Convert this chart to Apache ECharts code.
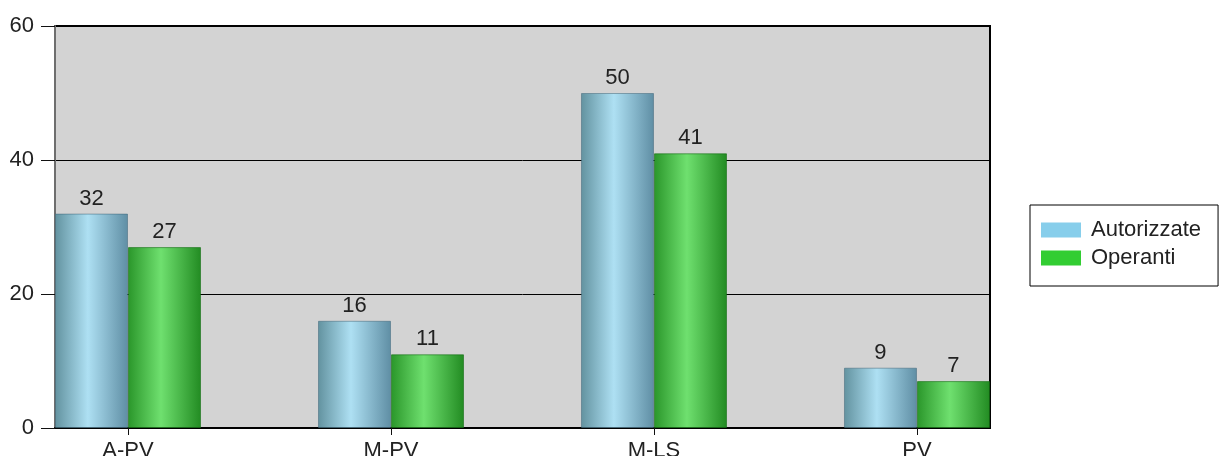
<!DOCTYPE html>
<html>
<head>
<meta charset="utf-8">
<script src="https://cdn.jsdelivr.net/npm/echarts@6/dist/echarts.min.js"></script>
<style>
  html, body { margin: 0; padding: 0; background: #fff; }
  #chart { width: 1221px; height: 456px; }
</style>
</head>
<body>
<div id="chart"></div>
<script>
// categorie e valori
var categories = ['A-PV', 'M-PV', 'M-LS', 'PV'];
var autorizzate = [32, 16, 50, 9];
var operanti = [27, 11, 41, 7];
var yMax = 60;
var yStep = 20;

var font = 'Liberation Sans';

function grad(c1, c2, c3) {
	return new echarts.graphic.LinearGradient(0, 0, 1, 0, [
		{ offset: 0, color: c1 },
		{ offset: 0.45, color: c2 },
		{ offset: 1, color: c3 }
	]);
}

function pts(arr) {
	return arr.map(function (v, i) { return [i, v]; });
}

var catIdx = categories.map(function (c, i) { return i; });

var myChart = echarts.init(document.getElementById('chart'));

myChart.setOption({
	animation: false,
	textStyle: { fontFamily: font },
	grid: {
		left: 55, right: 231, top: 26, bottom: 28,
		outerBoundsMode: 'none',
		show: true,
		backgroundColor: '#d3d3d3',
		borderColor: '#000',
		borderWidth: 2
	},
	legend: {
		orient: 'vertical',
		left: 1030, top: 205,
		padding: [14, 17, 17, 11],
		backgroundColor: '#fff',
		borderColor: '#000',
		borderWidth: 1,
		borderRadius: 0,
		itemWidth: 40, itemHeight: 15, itemGap: 6,
		textStyle: { fontSize: 22, color: '#222', lineHeight: 20, padding: [0, 0, 0, 5], fontFamily: font },
		data: [
			{ name: 'Autorizzate', icon: 'rect', itemStyle: { color: '#87ceeb', borderWidth: 0 } },
			{ name: 'Operanti', icon: 'rect', itemStyle: { color: '#32cd32', borderWidth: 0 } }
		]
	},
	xAxis: {
		type: 'value',
		min: -0.2776, max: catIdx.length - 1 + 0.2776,
		splitLine: { show: false },
		axisLine: { show: true, onZero: false, lineStyle: { color: '#000', width: 2 } },
		axisTick: { show: true, length: 7, customValues: catIdx, lineStyle: { color: '#111', width: 1 } },
		axisLabel: {
			customValues: catIdx,
			margin: 12,
			fontSize: 22, color: '#222',
			formatter: function (v) { return categories[Math.round(v)]; }
		}
	},
	yAxis: {
		type: 'value',
		min: 0, max: yMax, interval: yStep,
		axisLine: { show: true, onZero: false, lineStyle: { color: '#6e6e6e', width: 2 } },
		axisTick: { show: true, length: 14, lineStyle: { color: '#111', width: 1 } },
		axisLabel: { show: true, margin: 21, fontSize: 22, color: '#222' },
		splitLine: { show: true, lineStyle: { color: '#000', width: 1 } }
	},
	series: [
		{
			name: 'Autorizzate',
			type: 'bar',
			barWidth: 73,
			barGap: '0%',
			data: pts(autorizzate),
			itemStyle: { color: grad('#62929f', '#aee0f3', '#5f8ea4'), borderColor: 'rgba(60,100,120,0.5)', borderWidth: 1 },
			label: { show: true, position: 'top', distance: 4, fontSize: 22, color: '#222' }
		},
		{
			name: 'Operanti',
			type: 'bar',
			barWidth: 73,
			barGap: '0%',
			data: pts(operanti),
			itemStyle: { color: grad('#2a962a', '#6fe06f', '#228b22'), borderColor: 'rgba(20,110,20,0.6)', borderWidth: 1 },
			label: { show: true, position: 'top', distance: 4, fontSize: 22, color: '#222' }
		}
	]
});
</script>
</body>
</html>
